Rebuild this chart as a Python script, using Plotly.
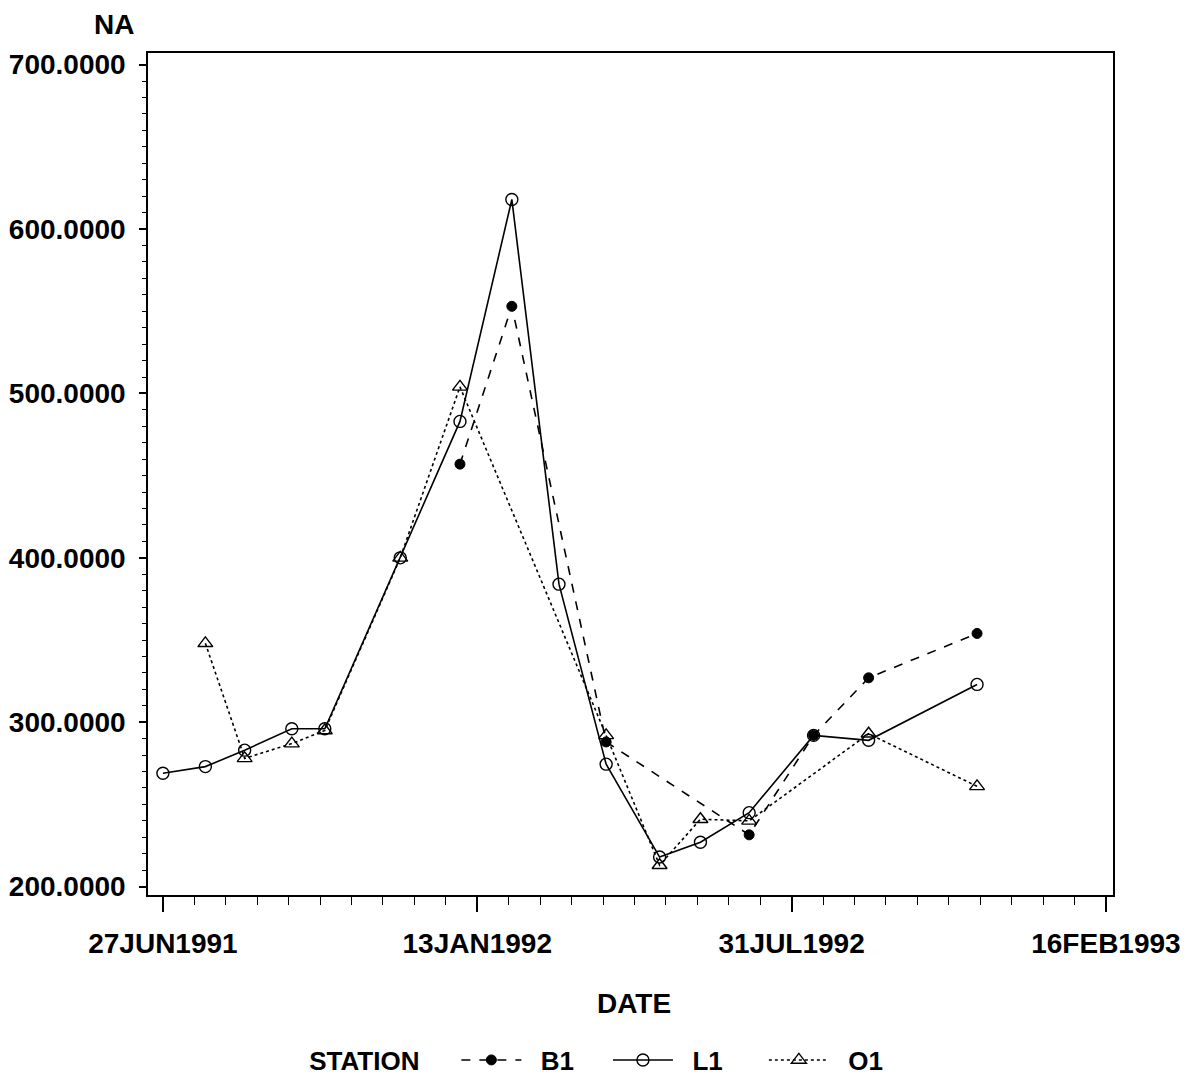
import plotly.graph_objects as go

# ---- data ----
l1_dates = ["1991-06-27", "1991-07-24", "1991-08-18", "1991-09-17", "1991-10-08",
            "1991-11-25", "1992-01-02", "1992-02-04", "1992-03-05", "1992-04-04",
            "1992-05-08", "1992-06-03", "1992-07-04", "1992-08-14", "1992-09-18",
            "1992-11-26"]
l1_values = [269, 273, 283, 296, 296, 400, 483, 618, 384, 274.5, 218, 227, 245, 292, 289, 323]

b1_dates = ["1992-01-02", "1992-02-04", "1992-04-04", "1992-07-04", "1992-08-14",
            "1992-09-18", "1992-11-26"]
b1_values = [457, 553, 288, 231.5, 292, 327, 354]

o1_dates = ["1991-07-24", "1991-08-18", "1991-09-17", "1991-10-08", "1991-11-25",
            "1992-01-02", "1992-04-04", "1992-05-08", "1992-06-03", "1992-07-04",
            "1992-09-18", "1992-11-26"]
o1_values = [348, 278, 287, 295, 400, 504, 292, 213, 241, 240, 293, 261]

station_names = ["B1", "L1", "O1"]
x_tick_vals = ["1991-06-27", "1992-01-13", "1992-07-31", "1993-02-16"]
x_tick_text = ["27JUN1991", "13JAN1992", "31JUL1992", "16FEB1993"]
y_tick_vals = [200, 300, 400, 500, 600, 700]

FONT = "Liberation Sans"
BLACK = "#000000"
NB = "\u00a0"

fig = go.Figure()

fig.add_trace(go.Scatter(
    x=b1_dates, y=b1_values, name=NB * 2 + station_names[0] + NB * 4, mode="lines+markers",
    line=dict(color=BLACK, width=1.6, dash="dash"),
    marker=dict(symbol="circle", size=10, color=BLACK, line=dict(color=BLACK, width=1)),
))
fig.add_trace(go.Scatter(
    x=l1_dates, y=l1_values, name=NB * 2 + station_names[1] + NB * 5, mode="lines+markers",
    line=dict(color=BLACK, width=1.6, dash="solid"),
    marker=dict(symbol="circle-open", size=12, color=BLACK, line=dict(color=BLACK, width=1.4)),
))
fig.add_trace(go.Scatter(
    x=o1_dates, y=o1_values, name=NB * 2 + station_names[2], mode="lines+markers",
    line=dict(color=BLACK, width=1.6, dash="dot"),
    marker=dict(symbol="triangle-up-open", size=13, color=BLACK, line=dict(color=BLACK, width=1.4)),
))

fig.update_layout(
    width=1193, height=1071,
    margin=dict(l=140, r=88, t=45, b=184, autoexpand=False),
    paper_bgcolor="white", plot_bgcolor="white",
    font=dict(family=FONT, size=28, color=BLACK, weight="bold"),
    showlegend=True,
    legend=dict(
        orientation="h", x=0.165, xanchor="left", y=-0.196, yanchor="middle",
        title=dict(text="STATION" + NB * 4, side="left", font=dict(size=26, weight="bold")),
        font=dict(size=26, weight="bold"),
        itemwidth=60, bgcolor="rgba(0,0,0,0)",
    ),
    annotations=[
        dict(text="NA", xref="paper", yref="paper", x=-0.0352, y=1.0333,
             xanchor="center", yanchor="middle", showarrow=False,
             font=dict(size=28, weight="bold")),
        dict(text="DATE", xref="paper", yref="paper", x=0.5036, y=-0.1283,
             xanchor="center", yanchor="middle", showarrow=False,
             font=dict(size=28, weight="bold")),
    ],
)

fig.update_xaxes(
    type="date",
    range=["1991-06-17T12:00", "1993-02-20T12:00"],
    tickvals=x_tick_vals, ticktext=x_tick_text,
    ticks="outside", ticklen=15, tickwidth=1.5, tickcolor=BLACK,
    ticklabelstandoff=8,
    tickfont=dict(size=28, weight="bold"),
    minor=dict(ticks="outside", ticklen=8, tickwidth=1, tickcolor=BLACK,
               tick0="1991-06-27", dtick=20 * 86400000, showgrid=False),
    showgrid=False, zeroline=False,
    showline=True, linecolor=BLACK, linewidth=1.5, mirror=True,
)
fig.update_yaxes(
    range=[194.9, 707.1],
    tickvals=y_tick_vals, tickformat=".4f",
    ticks="outside", ticklen=7, tickwidth=1.5, tickcolor=BLACK,
    ticklabelstandoff=8,
    tickfont=dict(size=28, weight="bold"),
    minor=dict(ticks="outside", ticklen=4, tickwidth=1, tickcolor=BLACK,
               tick0=200, dtick=10, showgrid=False),
    showgrid=False, zeroline=False,
    showline=True, linecolor=BLACK, linewidth=1.5, mirror=True,
)

fig.write_html("out.html")
